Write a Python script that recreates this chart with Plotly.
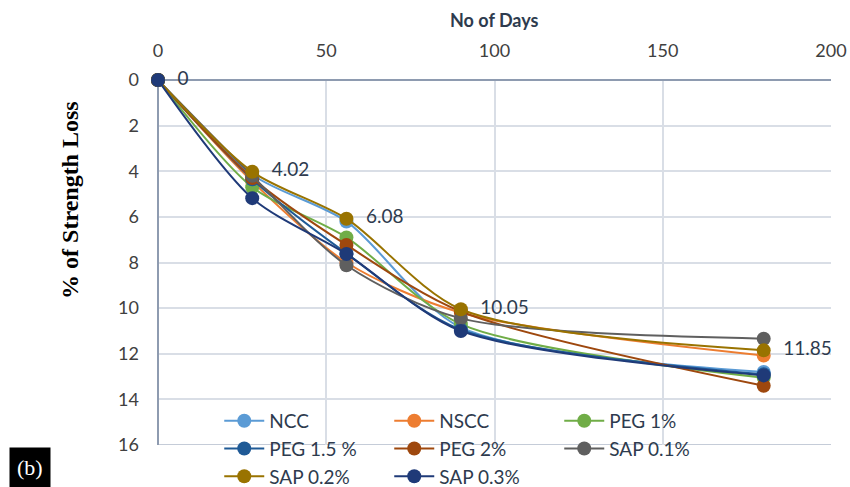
import plotly.graph_objects as go

days = [0, 28, 56, 90, 180]
series_names = ["NCC", "NSCC", "PEG 1%", "PEG 1.5 %", "PEG 2%", "SAP 0.1%", "SAP 0.2%", "SAP 0.3%"]
ncc = [0, 4.15, 6.2, 10.85, 12.8]
nscc = [0, 4.45, 8.0, 10.2, 12.08]
peg1 = [0, 4.7, 6.9, 10.7, 13.05]
peg15 = [0, 4.35, 7.6, 10.95, 12.9]
peg2 = [0, 4.3, 7.23, 10.15, 13.4]
sap01 = [0, 4.2, 8.12, 10.45, 11.34]
sap02 = [0, 4.02, 6.08, 10.05, 11.85]
sap03 = [0, 5.18, 7.63, 11.0, 12.95]
label_texts = ["0", "4.02", "6.08", "10.05", "11.85"]
x_ticks = [0, 50, 100, 150, 200]
y_ticks = [0, 2, 4, 6, 8, 10, 12, 14, 16]

values = [ncc, nscc, peg1, peg15, peg2, sap01, sap02, sap03]
colors = ["#5B9BD5", "#ED7D31", "#70AD47", "#1F5A96", "#9E480E", "#5F5F5F", "#997300", "#1F3A78"]

fig = go.Figure()
for name, vals, col in zip(series_names, values, colors):
    fig.add_trace(go.Scatter(
        x=days, y=vals, name=name, mode="lines+markers", cliponaxis=False,
        line=dict(color=col, width=2, shape="spline", smoothing=0.8),
        marker=dict(color=col, size=14),
    ))

fig.add_trace(go.Scatter(
    x=days, y=sap02, mode="text", text=["    " + t for t in label_texts],
    textposition="middle right", showlegend=False, hoverinfo="skip", cliponaxis=False,
    textfont=dict(family="Lato", size=19, color="#2E3B4E"),
))

fig.update_layout(
    width=850, height=487,
    margin=dict(l=158, r=19, t=80, b=42, autoexpand=False),
    paper_bgcolor="white", plot_bgcolor="white",
    font=dict(family="Lato", color="#404040"),
    showlegend=True,
    legend=dict(
        orientation="h", x=0.091, y=0.118, xanchor="left", yanchor="top",
        entrywidth=115, entrywidthmode="pixels",
        font=dict(family="Lato", size=19, color="#2E3B4E"),
        bgcolor="rgba(0,0,0,0)", tracegroupgap=0, itemwidth=40,
    ),
    xaxis=dict(
        side="top", range=[0, 200], tickvals=x_ticks, automargin=False,
        tickfont=dict(family="Lato", size=18, color="#404040"), ticklabelstandoff=18,
        showgrid=True, gridcolor="#D9DEE6", gridwidth=2,
        showline=False, zeroline=True, zerolinecolor="#8E9BB0", zerolinewidth=2,
        ticks="",
    ),
    yaxis=dict(
        range=[16, 0], tickvals=y_ticks, automargin=False,
        tickfont=dict(family="Lato", size=18, color="#404040"), ticklabelstandoff=18,
        showgrid=True, gridcolor="#D9DEE6", gridwidth=2,
        showline=False, zeroline=True, zerolinecolor="#8E9BB0", zerolinewidth=2,
        ticks="",
    ),
)

fig.add_shape(type="line", xref="x", yref="paper", x0=0, x1=0, y0=0, y1=1,
              line=dict(color="#8E9BB0", width=2), layer="below")
fig.add_shape(type="line", xref="paper", yref="y", x0=0, x1=1, y0=16, y1=16,
              line=dict(color="#C5CCD8", width=2), layer="below")

fig.add_annotation(
    text="<b>No of Days</b>", xref="paper", yref="paper", x=0.5, y=1.164,
    xanchor="center", yanchor="middle", showarrow=False,
    font=dict(family="Lato", size=18, color="#2E3B4E"),
)
fig.add_annotation(
    text="<b>% of Strength Loss</b>", xref="paper", yref="paper", x=-0.131, y=0.671,
    xanchor="center", yanchor="middle", showarrow=False, textangle=-90,
    font=dict(family="Liberation Serif", size=24, color="#000000"),
)
fig.add_annotation(
    text="(b)", xref="paper", yref="paper", x=-0.2215, y=-0.118, xanchor="left", yanchor="bottom",
    showarrow=False, font=dict(family="Liberation Serif", size=22, color="white"),
    bgcolor="black", borderpad=7,
)

fig.write_html("out.html", config={"displayModeBar": False},
               post_script="document.body.style.margin='0';document.body.style.overflow='hidden';")
